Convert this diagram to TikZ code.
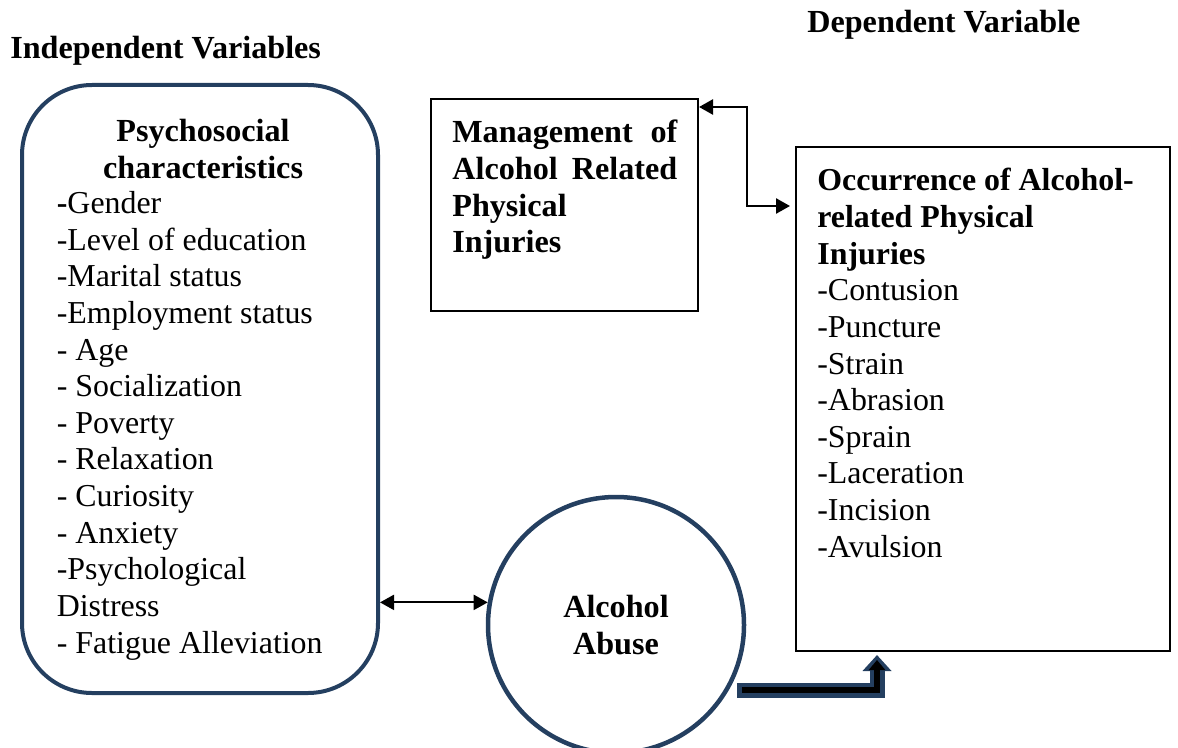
\documentclass[tikz,border=0pt]{standalone}
\usepackage{fontspec}
\setmainfont{Liberation Serif}
\usetikzlibrary{arrows.meta}
\definecolor{darknavy}{HTML}{243F60}

\tikzset{
	txt/.style={font=\fontsize{18.15}{20.85}\selectfont, inner sep=0pt},
	bold/.style={txt, font=\fontsize{18.3}{20.85}\selectfont\bfseries},
	plainbox/.style={draw, line width=0.04cm, inner sep=0pt},
	>={Triangle[length=0.28cm,width=0.3cm]},
}

\begin{document}
\begin{tikzpicture}
	\useasboundingbox (0, 0) rectangle (23.56, 14.94);

	\node[bold, anchor=base west] (indep) at (0.2, 13.77) {Independent Variables};
	\node[bold, anchor=base west] (dep) at (16.14, 14.29) {Dependent Variable};

	\node[draw=darknavy, line width=0.08cm, rounded corners=1.4cm, minimum width=7.12cm, minimum height=12.16cm] (psy) at (4.0, 7.16) {};
	\node[plainbox, minimum width=5.34cm, minimum height=4.24cm] (mgmt) at (11.29, 10.84) {};
	\node[plainbox, minimum width=7.48cm, minimum height=10.08cm] (occ) at (19.66, 6.96) {};
	\node[draw=darknavy, line width=0.09cm, circle, minimum size=5.12cm, inner sep=0pt, bold, align=center] (abuse) at (12.32, 2.44) {Alcohol\\Abuse};

	\node[bold, anchor=north, align=center] (psyhead) at (4.06, 12.56) {Psychosocial\\characteristics};
	\node[txt, anchor=north west, align=left] (psylist) at (1.13, 11.12) {\textbf{-}Gender\\-Level of education\\-Marital status\\-Employment status\\- Age\\- Socialization\\- Poverty\\- Relaxation\\- Curiosity\\- Anxiety\\-Psychological\\Distress\\- Fatigue Alleviation};

	\node[bold, anchor=north west, text width=4.5cm, align=left] (mgmttext) at (9.04, 12.54) {Management\hfill of\\Alcohol\hfill Related\\Physical\\Injuries};
	\node[txt, anchor=north west, align=left] (occtext) at (16.34, 11.58) {\textbf{Occurrence of Alcohol-}\\\textbf{related Physical}\\\textbf{Injuries}\\-Contusion\\-Puncture\\-Strain\\-Abrasion\\-Sprain\\-Laceration\\-Incision\\-Avulsion};

	\draw[<->, line width=0.04cm] (abuse.170 -| psy.east) -- (abuse.170);
	\draw[<->, line width=0.05cm] ([yshift=-0.18cm]mgmt.north east) -- ++(0.96, 0) |- ([yshift=-1.2cm, xshift=-0.1cm]occ.north west);

	\draw[darknavy, line width=0.3cm, -{Triangle[length=0.32cm,width=0.56cm]}] ([xshift=0.16cm]abuse.-30) -| ([xshift=1.64cm, yshift=-0.06cm]occ.south west);
	\draw[black, line width=0.13cm, shorten <=0.1cm, shorten >=0.1cm, -{Triangle[length=0.2cm,width=0.32cm]}] ([xshift=0.16cm]abuse.-30) -| ([xshift=1.64cm, yshift=-0.06cm]occ.south west);

\end{tikzpicture}
\end{document}
